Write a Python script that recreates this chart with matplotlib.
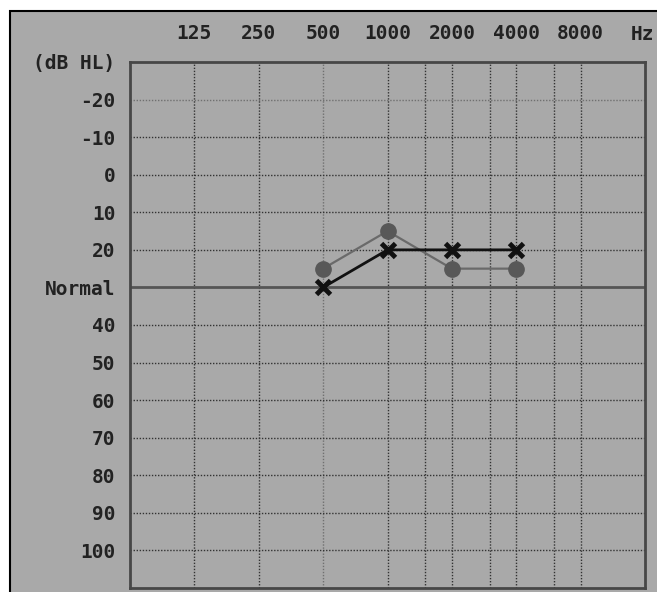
import matplotlib
matplotlib.use("Agg")
import matplotlib.pyplot as plt
import matplotlib.patches as mpatches

# audiogram data
freqs = [500, 1000, 2000, 4000]
right_ear = [25, 15, 25, 25]      # circles
left_ear = [30, 20, 20, 20]       # crosses

freq_ticks = [125, 250, 500, 1000, 2000, 4000, 8000]
freq_labels = ["125", "250", "500", "1000", "2000", "4000", "8000"]
grid_freqs = [125, 250, 500, 1000, 1500, 2000, 3000, 4000, 6000, 8000]
db_ticks = [-30, -20, -10, 0, 10, 20, 30, 40, 50, 60, 70, 80, 90, 100]
db_labels = ["(dB HL)", "-20", "-10", "0", "10", "20", "Normal",
             "40", "50", "60", "70", "80", "90", "100"]
normal_level = 30

W, H = 657, 592
bg = "#a9a9a9"
font = dict(family="DejaVu Sans Mono", fontweight="bold", fontsize=14, color="#222222")

fig = plt.figure(figsize=(W / 100, H / 100), dpi=100, facecolor="white")

# outer panel
frame = mpatches.Rectangle((10 / W, -0.1), 2, 1 - 11 / H + 0.1, transform=fig.transFigure,
                           facecolor=bg, edgecolor="black", linewidth=1.5, zorder=-1)
fig.add_artist(frame)

ax = fig.add_axes([130 / W, 4 / H, (645 - 130) / W, (588 - 62) / H])
ax.set_facecolor(bg)
ax.set_xscale("log", base=2)
ax.set_xlim(62.5, 16000)
ax.set_ylim(110, -30)

for s in ax.spines.values():
    s.set_color("#474747")
    s.set_linewidth(2)

# grid
for f in grid_freqs:
    c = "#707070" if f == 500 else "#333333"
    ax.axvline(f, color=c, linestyle=(0, (1, 1.2)), linewidth=1, zorder=1)
for d in db_ticks[1:]:
    if d == normal_level:
        continue
    c = "#707070" if d == -20 else "#333333"
    ax.axhline(d, color=c, linestyle=(0, (1, 1.2)), linewidth=1, zorder=1)
ax.axhline(normal_level, color="#555555", linewidth=2, zorder=2)

# thresholds
ax.plot(freqs, right_ear, "-", color="#6a6a6a", linewidth=1.6, zorder=3)
ax.plot(freqs, right_ear, "o", color="#585858", markersize=11, zorder=4)
ax.plot(freqs, left_ear, "-", color="#111111", linewidth=2, zorder=5)
ax.plot(freqs, left_ear, "x", color="#111111", markersize=10, markeredgewidth=3.5, zorder=6)

# axis labels
ax.xaxis.tick_top()
ax.set_xticks(freq_ticks)
ax.set_xticklabels(freq_labels, **font)
ax.xaxis.set_minor_locator(matplotlib.ticker.NullLocator())
ax.tick_params(axis="x", length=0, pad=14)
ax.set_yticks(db_ticks)
ax.set_yticklabels(db_labels, **font)
ax.tick_params(axis="y", length=0, pad=10.5)
fig.text(631 / W, 1 - 35 / H, "Hz", ha="left", va="center", **font)

fig.savefig("out.png", dpi=100, facecolor="white")
